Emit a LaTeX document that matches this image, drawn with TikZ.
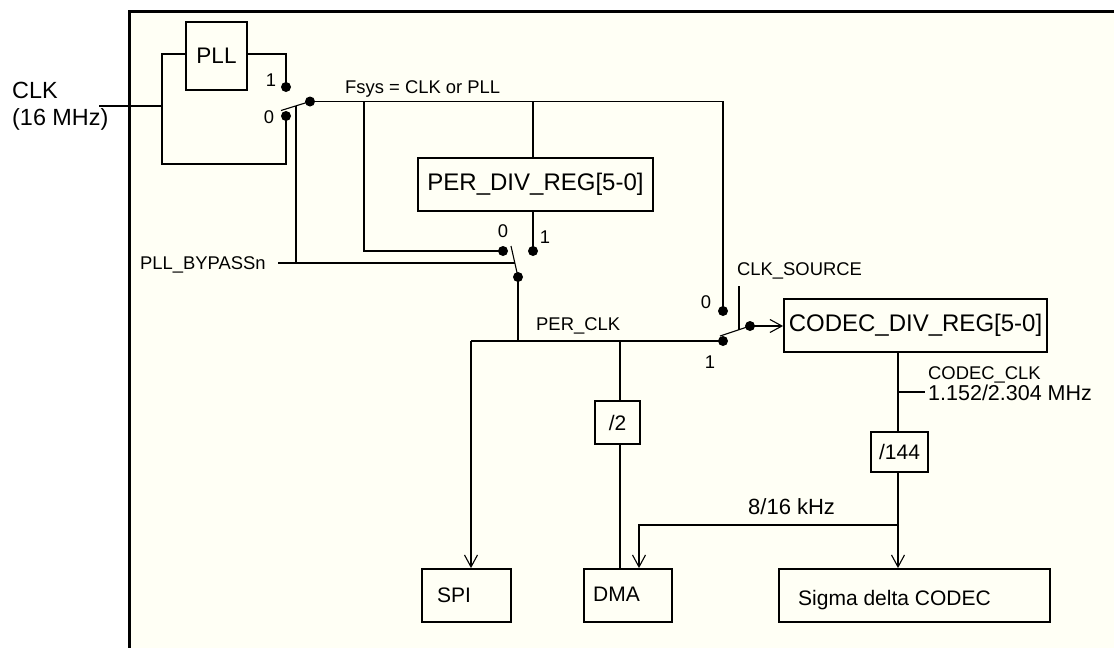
\documentclass[tikz,border=0pt]{standalone}
\usepackage{fontspec}
\setmainfont{Liberation Sans}
\usetikzlibrary{arrows.meta}
\definecolor{cream}{RGB}{255,255,245}
\newcommand\fSmall{\fontsize{18.4}{22}\selectfont}
\newcommand\fMid{\fontsize{21}{25}\selectfont}
\newcommand\fBig{\fontsize{24}{28}\selectfont}
\begin{document}
\begin{tikzpicture}[x=1pt,y=-1pt,
  wire/.style={line width=1.8pt},
  thin wire/.style={line width=1.1pt},
  box/.style={draw,line width=1.8pt,rectangle,inner sep=0pt},
  dot/.style={circle,fill,inner sep=0pt,minimum size=10pt},
  lbl/.style={inner sep=0pt,anchor=base west},
  num/.style={inner sep=0pt,anchor=base,font=\fSmall},
  arr/.style={-{Straight Barb[length=12pt,width=13pt,line width=1.1pt 0]}},
]
\useasboundingbox (0,0) rectangle (1114,648);
\fill[white] (0,0) rectangle (1114,648);
\fill[cream] (129.5,11) rectangle (1114,648);
\draw[line width=3pt] (129.5,648) -- (129.5,11) -- (1114,11);

% boxes
\node[box,minimum width=61pt,minimum height=68pt,font=\fontsize{22.5}{26}\selectfont] (pll) at (216.5,56) {PLL};
\node[box,minimum width=235pt,minimum height=53pt,font=\fBig] (perdiv) at (535.5,184.5) {PER\_DIV\_REG[5-0]};
\node[box,minimum width=263pt,minimum height=53pt,font=\fBig] (codecdiv) at (915.5,325.5) {CODEC\_DIV\_REG[5-0]};
\node[box,minimum width=45pt,minimum height=43pt,font=\fMid] (divtwo) at (617.5,422.5) {/2};
\node[box,minimum width=57pt,minimum height=40pt,font=\fMid] (divbig) at (899.5,452) {/144};
\node[box,minimum width=89pt,minimum height=53pt] (spi) at (466.5,595.5) {};
\node[box,minimum width=88pt,minimum height=53pt] (dma) at (628,595.5) {};
\node[box,minimum width=271pt,minimum height=53pt] (sigma) at (914.5,595.5) {};

% texts
\node[lbl,font=\fMid] (tspi) at (437,602.3) {SPI};
\node[lbl,font=\fMid] (tdma) at (593,601) {DMA};
\node[lbl,font=\fMid] (tsigma) at (798,605) {Sigma delta CODEC};
\node[lbl,font=\fontsize{23.4}{27}\selectfont] (tclk) at (12,98.3) {CLK};
\node[lbl,font=\fontsize{23.4}{27}\selectfont] (tmhz) at (12,125) {(16 MHz)};
\node[lbl,font=\fSmall] (tfsys) at (345,93.5) {Fsys = CLK or PLL};
\node[lbl,font=\fSmall] (tbyp) at (140,269.3) {PLL\_BYPASSn};
\node[lbl,font=\fSmall] (tsrc) at (737,275.3) {CLK\_SOURCE};
\node[lbl,font=\fSmall] (tper) at (536,330) {PER\_CLK};
\node[lbl,font=\fSmall] (tcc) at (928,379.3) {CODEC\_CLK};
\node[lbl,font=\fontsize{21.5}{25}\selectfont] (tfreq) at (928,400) {1.152/2.304 MHz};
\node[lbl,font=\fontsize{22}{26}\selectfont] (tkhz) at (748,514.5) {8/16 kHz};
\node[num] (laa) at (271,86.6) {1};
\node[num] (lab) at (269,123.3) {0};
\node[num] (lbb) at (503,237.7) {0};
\node[num] (lba) at (545,243) {1};
\node[num] (lcb) at (706,308.7) {0};
\node[num] (lca) at (710,368.3) {1};

% switch contacts and pivots
\node[dot] (saa) at (286,87) {};
\node[dot] (sab) at (286,116) {};
\node[dot] (sap) at (310,101.5) {};
\node[dot] (sbb) at (503,251) {};
\node[dot] (sba) at (533,251) {};
\node[dot] (sbp) at (518,277) {};
\node[dot] (scb) at (723,311) {};
\node[dot] (sca) at (723,341) {};
\node[dot] (scp) at (750,326) {};

% coordinates
\coordinate (clkin) at (99,106);
\coordinate (jl) at (162,106);
\coordinate (ctl) at (162,54);
\coordinate (cbl) at (162,164);
\coordinate (cbr) at (286,164);
\coordinate (cpr) at (286,54);
\coordinate (arma) at (281,110.5);
\coordinate (cta) at (296,106);
\coordinate (cba) at (296,263);
\coordinate (bpl) at (278,263);
\coordinate (bpr) at (514.8,263);
\coordinate (armb) at (511,246);
\coordinate (fr) at (723,101.5);
\coordinate (fa) at (364,101.5);
\coordinate (fb) at (364,251);
\coordinate (fc) at (533,101.5);
\coordinate (pca) at (471,341);
\coordinate (pcb) at (518,341);
\coordinate (pcc) at (620,341);
\coordinate (armc) at (720,336);
\coordinate (csa) at (739,286);
\coordinate (csb) at (739,329.7);
\coordinate (cdv) at (898,392);
\coordinate (tick) at (925,392);
\coordinate (ka) at (898,525);
\coordinate (kb) at (639,525);

% wires
\draw[wire] (clkin) -- (jl);
\draw[wire] (pll.east |- cpr) -- (cpr) -- (saa.center);
\draw[wire] (pll.west |- ctl) -- (ctl) -- (cbl) -- (cbr) -- (sab.center);
\draw[thin wire] (sap.center) -- (arma);
\draw[wire] (cta) -- (cba);
\draw[wire] (bpl) -- (bpr);
\draw[wire] (sap.center) -- (fr) -- (scb.center);
\draw[wire] (fa) -- (fb) -- (sbb.center);
\draw[wire] (fc) -- (fc |- perdiv.north);
\draw[wire] (perdiv.south -| sba) -- (sba.center);
\draw[thin wire] (sbp.center) -- (armb);
\draw[wire] (sbp.center) -- (pcb);
\draw[wire] (pca) -- (sca.center);
\draw[wire,arr] (pca) -- (spi.north -| pca);
\draw[wire] (pcc) -- (pcc |- divtwo.north);
\draw[wire] (divtwo.south -| pcc) -- (dma.north -| pcc);
\draw[thin wire] (scp.center) -- (armc);
\draw[wire] (csa) -- (csb);
\draw[thin wire,arr] (scp.center) -- (codecdiv.west |- scp);
\draw[wire] (codecdiv.south -| cdv) -- (cdv |- divbig.north);
\draw[wire] (cdv) -- (tick);
\draw[wire,arr] (divbig.south -| cdv) -- (sigma.north -| cdv);
\draw[wire,arr] (ka) -- (kb) -- (dma.north -| kb);
\end{tikzpicture}
\end{document}
